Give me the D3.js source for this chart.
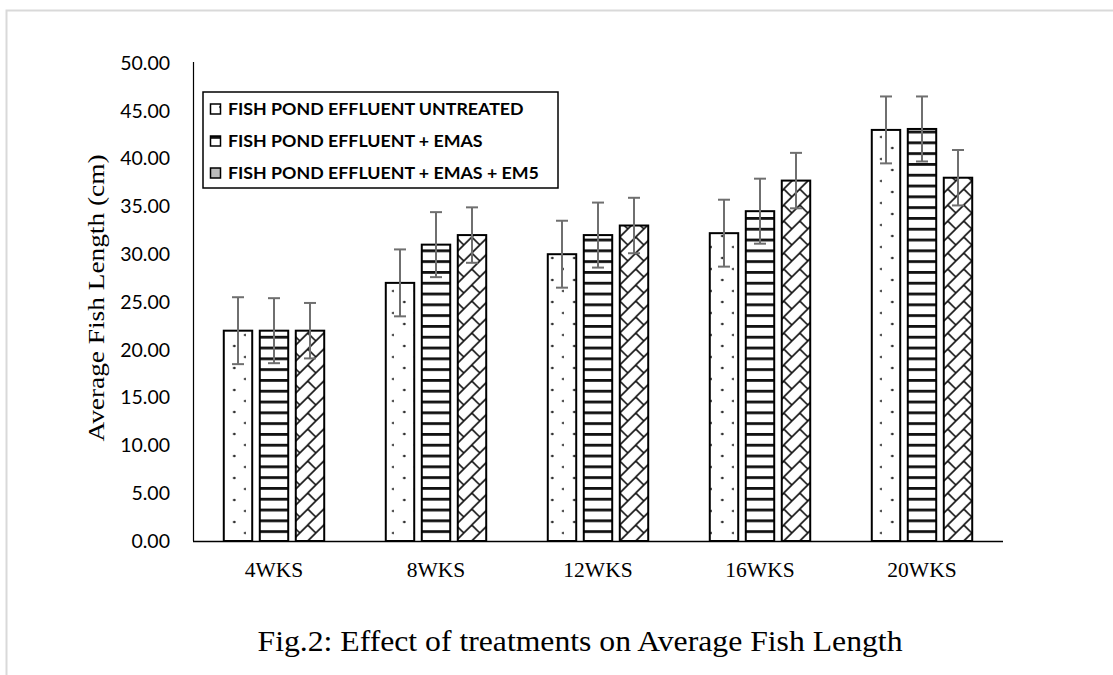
<!DOCTYPE html>
<html>
<head>
<meta charset="utf-8">
<script src="https://cdn.jsdelivr.net/npm/d3@7"></script>
<style>
  body { margin: 0; background: #fff; }
  svg { display: block; }
</style>
</head>
<body>
<script>
const w = 1113;
const h = 675;

const weeks = ['4WKS', '8WKS', '12WKS', '16WKS', '20WKS'];
const seriesNames = ['FISH POND EFFLUENT UNTREATED', 'FISH POND EFFLUENT + EMAS', 'FISH POND EFFLUENT + EMAS + EM5'];
const untreated = [22, 27, 30, 32.2, 43];
const emas = [22, 31, 32, 34.5, 43.1];
const emasEm5 = [22, 32, 33, 37.7, 38];
const errUntreated = [3.5, 3.5, 3.5, 3.5, 3.5];
const errEmas = [3.4, 3.4, 3.4, 3.4, 3.4];
const errEmasEm5 = [2.9, 2.9, 2.9, 2.9, 2.9];
const yTicks = [0, 5, 10, 15, 20, 25, 30, 35, 40, 45, 50];

const values = [untreated, emas, emasEm5];
const errors = [errUntreated, errEmas, errEmasEm5];

const svg = d3.select('body').append('svg')
    .attr('width', w)
    .attr('height', h);

// light frame, top and left only
svg.append('path')
    .attr('d', 'M6.5,675 L6.5,10.5 L1113,10.5')
    .attr('fill', 'none')
    .attr('stroke', '#d9d9d9')
    .attr('stroke-width', 2);

const x0 = d3.scaleBand().domain(weeks).range([193, 1003])
    .paddingInner(1 / 3).paddingOuter(1 / 6);
const x1 = d3.scaleBand().domain([0, 1, 2]).range([0, x0.bandwidth()])
    .paddingInner(0.21).paddingOuter(0.105);
const y = d3.scaleLinear().domain([0, 50]).range([541, 63]);

const defs = svg.append('defs');

function makePattern(id, s, px, py) {
    if (s === 0) {
        const p = defs.append('pattern').attr('id', id)
            .attr('patternUnits', 'userSpaceOnUse')
            .attr('x', px).attr('y', py).attr('width', 22).attr('height', 22);
        p.append('rect').attr('width', 22).attr('height', 22).attr('fill', '#fff');
        p.append('circle').attr('cx', 10.5).attr('cy', 3).attr('r', 1.3).attr('fill', '#222');
        p.append('circle').attr('cx', 21.5).attr('cy', 14).attr('r', 1.3).attr('fill', '#222');
    } else if (s === 1) {
        const p = defs.append('pattern').attr('id', id)
            .attr('patternUnits', 'userSpaceOnUse')
            .attr('x', px).attr('y', py).attr('width', 20).attr('height', 10.8);
        p.append('rect').attr('width', 20).attr('height', 10.8).attr('fill', '#fff');
        p.append('rect').attr('y', 0).attr('width', 20).attr('height', 2.8).attr('fill', '#111');
    } else {
        const p = defs.append('pattern').attr('id', id)
            .attr('patternUnits', 'userSpaceOnUse')
            .attr('x', px).attr('y', py).attr('width', 16).attr('height', 16);
        p.append('rect').attr('width', 16).attr('height', 16).attr('fill', '#fff');
        p.append('path')
            .attr('d', 'M0,16L16,0 M-4,4L4,-4 M12,20L20,12 M0,0L8,8')
            .attr('stroke', '#111').attr('stroke-width', 1.6).attr('fill', 'none');
    }
}

// y axis line
svg.append('line').attr('x1', 193.5).attr('x2', 193.5).attr('y1', y(50) - 1).attr('y2', y(0))
    .attr('stroke', '#000').attr('stroke-width', 1.2);

const yAxis = svg.append('g').attr('transform', 'translate(193,0)')
    .call(d3.axisLeft(y).tickValues(yTicks).tickFormat(d3.format('.2f')).tickSize(0).tickPadding(23));
yAxis.select('.domain').remove();
yAxis.selectAll('text')
    .attr('font-family', 'Lato, sans-serif')
    .attr('font-size', 19.5)
    .attr('fill', '#000');

const groups = svg.selectAll('g.grp')
    .data(weeks)
    .enter().append('g')
    .attr('class', 'grp')
    .attr('transform', d => `translate(${x0(d)},0)`);

groups.each(function (wk, i) {
    const g = d3.select(this);
    [0, 1, 2].forEach(s => {
        const v = values[s][i];
        const bx = x0(wk) + x1(s);
        const id = `pat-${s}-${i}`;
        makePattern(id, s, bx, y(0));
        g.append('rect')
            .attr('x', x1(s))
            .attr('y', y(v))
            .attr('width', x1.bandwidth())
            .attr('height', y(0) - y(v))
            .attr('fill', `url(#${id})`)
            .attr('stroke', '#000')
            .attr('stroke-width', 2);
    });
});

// x axis line
svg.append('line').attr('x1', 193).attr('x2', 1003).attr('y1', y(0) + 0.5).attr('y2', y(0) + 0.5)
    .attr('stroke', '#000').attr('stroke-width', 1.3);

// error bars
groups.each(function (wk, i) {
    const g = d3.select(this);
    [0, 1, 2].forEach(s => {
        const v = values[s][i];
        const e = errors[s][i];
        const cx = x1(s) + x1.bandwidth() / 2;
        const eb = g.append('g').attr('stroke', '#6f6f6f').attr('stroke-width', 2);
        eb.append('line').attr('x1', cx).attr('x2', cx).attr('y1', y(v + e)).attr('y2', y(v - e));
        eb.append('line').attr('x1', cx - 6).attr('x2', cx + 6).attr('y1', y(v + e)).attr('y2', y(v + e));
        eb.append('line').attr('x1', cx - 6).attr('x2', cx + 6).attr('y1', y(v - e)).attr('y2', y(v - e));
    });
});

const xAxis = svg.append('g').attr('transform', `translate(0,${y(0)})`)
    .call(d3.axisBottom(x0).tickSize(0).tickPadding(21));
xAxis.select('.domain').remove();
xAxis.selectAll('text')
    .attr('font-family', '"Liberation Serif", serif')
    .attr('font-size', 21.5)
    .attr('fill', '#000');

// y title
svg.append('text')
    .attr('transform', 'translate(104,298) rotate(-90)')
    .attr('text-anchor', 'middle')
    .attr('font-family', '"Liberation Serif", serif')
    .attr('font-size', 24)
    .attr('textLength', 287)
    .attr('lengthAdjust', 'spacingAndGlyphs')
    .text('Average Fish Length (cm)');

// legend
const lg = svg.append('g');
lg.append('rect').attr('x', 203).attr('y', 92).attr('width', 355).attr('height', 96)
    .attr('fill', '#fff').attr('stroke', '#000').attr('stroke-width', 1.5);
const rowsY = [109, 141, 173];
seriesNames.forEach((name, s) => {
    const sw = `leg-${s}`;
    makePattern(sw, s, 210, rowsY[s] - 5);
    lg.append('rect').attr('x', 210.5).attr('y', rowsY[s] - 5).attr('width', 10).attr('height', 10)
        .attr('fill', s === 2 ? '#bbb' : `url(#${sw})`)
        .attr('stroke', '#000').attr('stroke-width', 1.5);
    lg.append('text')
        .attr('x', 228).attr('y', rowsY[s])
        .attr('dy', '0.35em')
        .attr('font-family', 'Lato, sans-serif')
        .attr('font-weight', 'bold')
        .attr('font-size', 17.8)
        .text(name);
});

// caption
svg.append('text')
    .attr('x', 580).attr('y', 651)
    .attr('text-anchor', 'middle')
    .attr('font-family', '"Liberation Serif", serif')
    .attr('font-size', 30)
    .attr('textLength', 645)
    .attr('lengthAdjust', 'spacingAndGlyphs')
    .text('Fig.2: Effect of treatments on Average Fish Length');
</script>
</body>
</html>
